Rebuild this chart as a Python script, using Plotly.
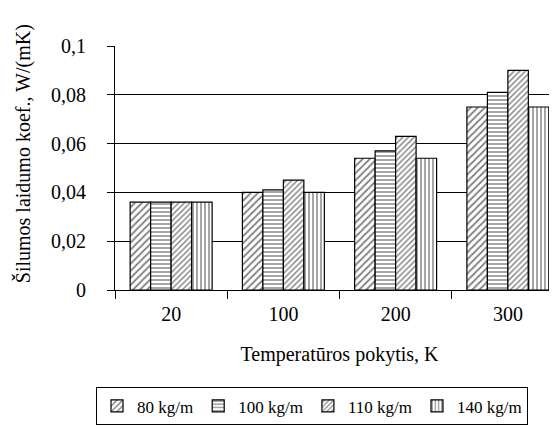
import plotly.graph_objects as go

categories = ["20", "100", "200", "300"]
series_names = ["80 kg/m", "100 kg/m", "110 kg/m", "140 kg/m"]
v80 = [0.036, 0.040, 0.054, 0.075]
v100 = [0.036, 0.041, 0.057, 0.081]
v110 = [0.036, 0.045, 0.063, 0.090]
v140 = [0.036, 0.040, 0.054, 0.075]
values = [v80, v100, v110, v140]
patterns = ["/", "-", "/", "|"]
pattern_sizes = [5, 4, 4, 4]

ytick_vals = [0, 0.02, 0.04, 0.06, 0.08, 0.1]
ytick_text = ["0", "0,02", "0,04", "0,06", "0,08", "0,1"]

FONT = "Liberation Serif"
tickfont = dict(family=FONT, size=20, color="black")

fig = go.Figure()
for name, vals, pat, ps in zip(series_names, values, patterns, pattern_sizes):
    fig.add_trace(go.Bar(
        x=categories, y=vals, name=name,
        marker=dict(color="white", line=dict(color="black", width=1.2),
                    pattern=dict(shape=pat, fgcolor="black", bgcolor="white",
                                 size=ps, solidity=0.35)),
    ))

fig.update_layout(
    width=557, height=437,
    margin=dict(l=107, r=1, t=38, b=155),
    paper_bgcolor="white", plot_bgcolor="white",
    barmode="group", bargap=0.27, bargroupgap=0,
    font=dict(family=FONT, size=20, color="black"),
    showlegend=True,
    legend=dict(orientation="h", xref="container", yref="container",
                x=0.158, y=0.132, xanchor="left", yanchor="top",
                bordercolor="black", borderwidth=1,
                font=dict(family=FONT, size=17, color="black"),
                itemwidth=30, traceorder="normal", tracegroupgap=0),
    xaxis=dict(type="category", showline=True, linecolor="black", linewidth=1,
               ticks="outside", tickson="boundaries", ticklen=8, tickcolor="black",
               showgrid=False, ticklabelstandoff=6, tickfont=tickfont,
               title=dict(text="Temperatūros pokytis, K", standoff=22,
                          font=dict(family=FONT, size=20, color="black"))),
    yaxis=dict(range=[0, 0.1], tickvals=ytick_vals, ticktext=ytick_text,
               showline=True, linecolor="black", linewidth=1,
               ticks="outside", ticklen=7, tickcolor="black",
               showgrid=True, gridcolor="black", gridwidth=1, zeroline=False,
               ticklabelstandoff=17, tickfont=tickfont),
    annotations=[dict(text="Šilumos laidumo koef., W/(mK)", textangle=-90,
                      xref="paper", yref="paper", x=-0.203, y=0.56,
                      xanchor="center", yanchor="middle", showarrow=False,
                      font=dict(family=FONT, size=20, color="black"))],
)

fig.write_html("out.html")
